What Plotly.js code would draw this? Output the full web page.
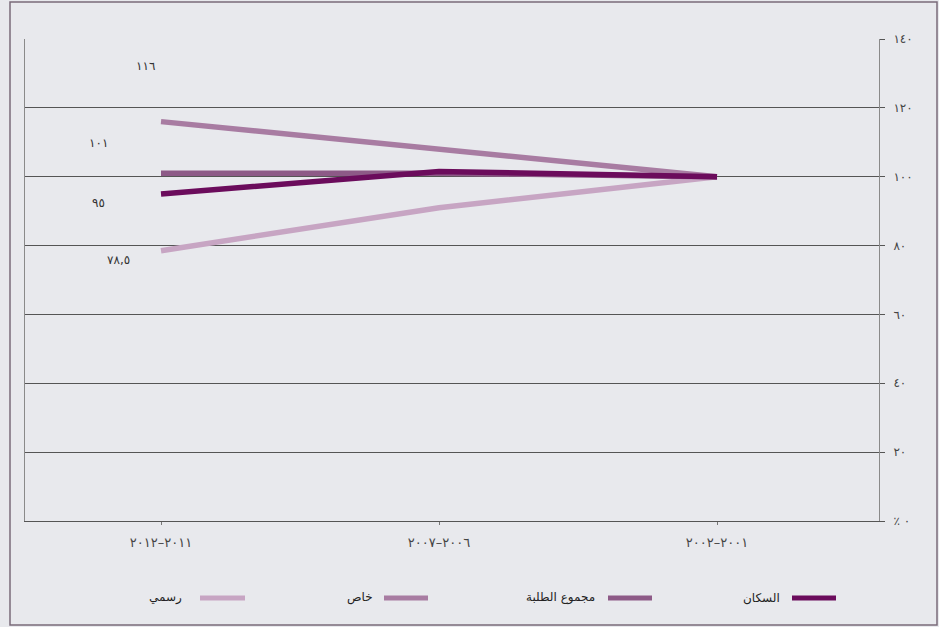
<!DOCTYPE html>
<html>
<head>
<meta charset="utf-8">
<script src="https://cdn.plot.ly/plotly-3.0.1.min.js"></script>
<style>
  html, body { margin: 0; padding: 0; background: #e8e9ed; }
  #chart { width: 939px; height: 627px; }
</style>
</head>
<body>
<div id="chart"></div>
<script>
// ---- data ----
const categories = ['٢٠٠١–٢٠٠٢', '٢٠٠٦–٢٠٠٧', '٢٠١١–٢٠١٢'];
const seriesNames = ['رسمي', 'خاص', 'مجموع الطلبة', 'السكان'];
const valsOfficial = [100, 91, 78.5];
const valsPrivate = [100, 108, 116];
const valsStudents = [100, 101, 101];
const valsPopulation = [100, 101.5, 95];
const endLabels = ['٧٨,٥', '١١٦', '١٠١', '٩٥'];
const yTickVals = [0, 20, 40, 60, 80, 100, 120, 140];
const yTickText = ['٪ ٠', '٢٠', '٤٠', '٦٠', '٨٠', '١٠٠', '١٢٠', '١٤٠'];

// ---- styles ----
const seriesValues = [valsOfficial, valsPrivate, valsStudents, valsPopulation];
const colors = ['#c7a5c3', '#a87ca2', '#8d5a87', '#6b0c5c'];
const labelShift = [[-43, -9], [-16, 56], [-63, 30], [-63, -9]];
// legend layout in pixels: swatch left, swatch right, text right
const legendPx = [[200, 245, 184], [384, 428, 375], [608, 652, 597], [792, 836, 782]];
const legendY = 598;

const L = 25, R = 879, T = 39, B = 521;
const px2x = p => (p - L) / (R - L);
const py2y = p => (B - p) / (B - T);

const font = 'DejaVu Sans, sans-serif';

const traces = seriesValues.map((vals, i) => ({
  type: 'scatter',
  mode: 'lines',
  x: categories,
  y: vals,
  name: seriesNames[i],
  line: { color: colors[i], width: 5.5 },
  hoverinfo: 'x+y+name',
  showlegend: false
}));

const annotations = endLabels.map((t, i) => ({
  xref: 'x', yref: 'y',
  x: categories[categories.length - 1],
  y: seriesValues[i][seriesValues[i].length - 1],
  text: t,
  showarrow: false,
  xshift: labelShift[i][0], yshift: labelShift[i][1],
  font: { family: font, size: 12, color: '#333' }
}));

const shapes = [];
seriesNames.forEach((n, i) => {
  const [s0, s1, tr] = legendPx[i];
  shapes.push({
    type: 'line', xref: 'paper', yref: 'paper',
    x0: px2x(s0), x1: px2x(s1), y0: py2y(legendY), y1: py2y(legendY),
    line: { color: colors[i], width: 5 }
  });
  annotations.push({
    xref: 'paper', yref: 'paper',
    x: px2x(tr), y: py2y(legendY),
    xanchor: 'right', yanchor: 'middle',
    text: n, showarrow: false,
    font: { family: font, size: 12, color: '#222' }
  });
});

// outer frame
shapes.push({
  type: 'rect', xref: 'paper', yref: 'paper',
  x0: px2x(10), x1: px2x(937), y0: py2y(625), y1: py2y(2),
  line: { color: '#7a6b7a', width: 1.5 },
  layer: 'below'
});

const layout = {
  width: 939, height: 627,
  margin: { l: L, r: 939 - R, t: T, b: 627 - B, pad: 0 },
  paper_bgcolor: '#e8e9ed',
  plot_bgcolor: '#e8e9ed',
  showlegend: false,
  xaxis: {
    type: 'category',
    categoryorder: 'array',
    categoryarray: categories,
    range: [2 + (161 - L) / 278, -(R - 717) / 278],
    showgrid: false,
    zeroline: false,
    showline: true,
    linecolor: '#555',
    linewidth: 1,
    ticks: 'outside',
    ticklen: 3,
    tickcolor: '#777',
    ticklabelstandoff: 6,
    tickfont: { family: font, size: 13, color: '#444' },
    fixedrange: true
  },
  yaxis: {
    side: 'right',
    range: [0, 140],
    tickvals: yTickVals,
    ticktext: yTickText,
    showgrid: true,
    gridcolor: '#555',
    gridwidth: 1,
    zeroline: false,
    showline: true,
    mirror: true,
    linecolor: '#8a8a8a',
    linewidth: 1,
    ticks: 'outside',
    ticklen: 5,
    tickcolor: '#555',
    ticklabelstandoff: 6,
    tickfont: { family: font, size: 12, color: '#444' },
    fixedrange: true
  },
  annotations: annotations,
  shapes: shapes
};

Plotly.newPlot('chart', traces, layout, { displayModeBar: false, staticPlot: true });
</script>
</body>
</html>
